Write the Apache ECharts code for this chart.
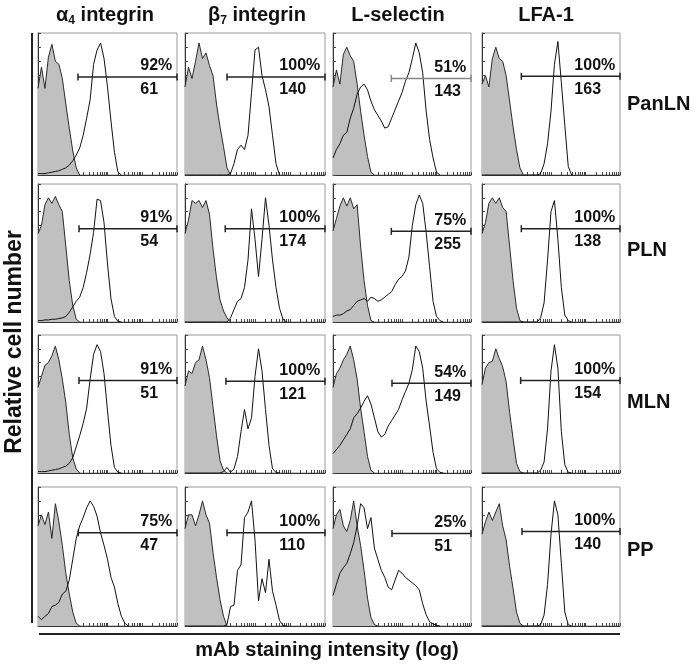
<!DOCTYPE html>
<html>
<head>
<meta charset="utf-8">
<script src="https://cdn.jsdelivr.net/npm/echarts@6/dist/echarts.min.js"></script>
<style>
html,body{margin:0;padding:0;background:#fff;}
#chart{width:698px;height:667px;}
</style>
</head>
<body>
<div id="chart"></div>
<script>
// ---------- data ----------
const markers = ['α4 integrin', 'β7 integrin', 'L-selectin', 'LFA-1'];
const tissues = ['PanLN', 'PLN', 'MLN', 'PP'];
// x positions of histogram bins, in log decades of staining intensity (10^0 .. 10^4)
const DECADES = [0,0.1,0.2,0.3,0.4,0.5,0.6,0.7,0.8,0.9,1.0,1.1,1.2,1.3,1.4,1.5,1.6,1.7,1.8,1.9,2.0,
                 2.1,2.2,2.3,2.4,2.5,2.6,2.7,2.8,2.9,3.0,3.1,3.2,3.3,3.4,3.5,3.6,3.7,3.8,3.9,4.0];

// relative cell number (% of panel height); one array per marker column
const PanLN_control = [
  [61,76,61,83,92,80,78,68,50,33,17,5,0],
  [62,76,68,80,93,82,86,77,70,50,34,20,5,0],
  [62,74,64,85,90,84,80,64,45,28,13,2,0],
  [64,70,62,82,90,82,80,70,52,34,18,5,0]
];
const PanLN_stained = [
  [1,1,1,1.5,2,2.5,3,4,5,7,10,14,19,28,40,53,78,88,93,82,62,38,16,2,0],
  [0,0,0,0,0,0,0,0,0,0,0,0,0,1,8,18,21,18,28,58,88,90,70,60,48,28,8,0],
  [12,18,22,28,30,40,47,57,62,64,60,52,46,42,38,33,34,40,46,52,58,66,72,82,93,86,72,45,25,12,2,0],
  [0,0,0,0,0,0,0,0,0,0,0,0,0,0,0,0,0,1,8,22,45,78,94,65,35,6,0]
];
const PLN_control = [
  [64,70,85,90,86,91,85,80,55,30,12,2,0],
  [64,74,88,86,88,83,88,78,53,32,16,8,3,0],
  [66,75,84,90,84,90,82,85,55,30,12,1,0],
  [64,72,86,90,86,90,83,80,55,30,10,1,0]
];
const PLN_stained = [
  [1,1,1.5,1.5,2,2,2.5,3,4,7,11,15,18,25,36,49,65,89,88,72,42,17,4,0.5,0],
  [0,0,0,0,0,0,0,0,0,0,0,0,0,3,9,15,17,25,45,82,60,33,60,90,70,45,25,10,2,0],
  [4,5,5,6,8,9,12,15,16,17,15,18,17,15,16,18,20,22,27,31,33,37,47,70,85,92,86,65,40,15,4,1,0],
  [0,0,0,0,0,0,0,0,0,0,0,0,0,0,0,0,0,3,14,45,80,88,60,25,5,1,0]
];
const MLN_control = [
  [62,70,78,80,85,92,82,68,51,28,11,3,0],
  [63,74,72,80,82,92,82,69,48,27,9,2,0],
  [62,72,76,82,86,92,82,68,47,30,12,2,0],
  [64,76,80,81,90,83,77,66,44,25,7,1,0]
];
const MLN_stained = [
  [1,1,1,1.5,2,2.5,3,4,5,7,11,19,27,36,47,68,86,93,88,72,45,20,4,0.5,0],
  [0,0,0,0,0,0,0,0,0,0,0,1,4,0.5,3,12,30,46,32,40,70,90,74,46,20,3,0.5,0],
  [14,17,20,24,28,32,40,43,47,52,56,50,40,30,26,28,34,38,42,46,53,59,65,75,92,88,76,52,34,15,3,0.5,0],
  [0,0,0,0,0,0,0,0,0,0,0,0,0,0,0,0,0,2,8,32,74,93,76,30,6,0.5,0]
];
const PP_control = [
  [72,80,73,82,63,88,75,58,38,23,10,2,0],
  [70,80,80,72,80,90,80,74,53,35,19,7,0],
  [70,80,84,72,68,76,90,72,58,40,20,6,1,0],
  [66,75,82,76,82,88,72,62,43,27,10,2,0]
];
const PP_stained = [
  [7,4.5,7,9,14,15,17,23,25,33,48,63,72,78,85,90,86,79,67,58,48,35,28,16,7,2,0],
  [0,0,0,0,0,0,0,0,0,0,0,0,1,14,15,40,44,78,82,90,62,18,34,24,48,25,15,4,0.5,0],
  [22,30,38,42,45,52,60,72,88,85,70,78,56,48,40,35,28,26,33,40,38,35,33,31,29,26,16,8,3,1.5,0.5,0],
  [0,0,0,0,0,0,0,0,0,0,0,0,0,0,0,0,0,1,8,30,66,90,80,45,10,1,0]
];
// gate: start (decades) and height (% of panel height)
const GATE_START = [[1.15,1.2,1.69,1.14],[1.18,1.15,1.69,1.14],[1.18,1.17,1.71,1.12],[1.16,1.2,1.71,1.16]];
const GATE_LEVEL = [[69,69,68,69.5],[67.6,67.6,65.7,67.6],[67,66.4,65,67],[67,67,66.6,68]];
const PERCENT = [['92%','100%','51%','100%'],['91%','100%','75%','100%'],['91%','100%','54%','100%'],['75%','100%','25%','100%']];
const MFI = [[61,140,143,163],[54,174,255,138],[51,121,149,154],[47,110,51,140]];

const CONTROL = [PanLN_control, PLN_control, MLN_control, PP_control];
const STAINED = [PanLN_stained, PLN_stained, MLN_stained, PP_stained];

// ---------- layout ----------
const COL_LEFT = [38,185,333,482], COL_W = [139,140,138,138];
const ROW_TOP = [33,184,335,487], ROW_H = [142,138,138,139];
const FONT = '"Liberation Sans", Arial, Helvetica, sans-serif';

const logTicks = [];
for (let d = 0; d < 4; d++) for (let k = 1; k <= 9; k++) logTicks.push(d + Math.log10(k));
logTicks.push(4);

const ctx = document.createElement('canvas').getContext('2d');
ctx.font = 'bold 16px ' + FONT;

const grids = [], xAxes = [], yAxes = [], series = [];
let gi = 0;
for (let r = 0; r < 4; r++) {
  for (let c = 0; c < 4; c++) {
    grids.push({left: COL_LEFT[c], top: ROW_TOP[r], width: COL_W[c], height: ROW_H[r],
      show: true, borderColor: '#9a9a9a', borderWidth: 1, containLabel: false});
    xAxes.push({type: 'value', gridIndex: gi, min: 0, max: 4, interval: 1,
      axisLine: {show: true, lineStyle: {color: '#333', width: 1}},
      axisTick: {show: true, inside: true, length: 3, customValues: logTicks, lineStyle: {color: '#444'}},
      axisLabel: {show: false}, splitLine: {show: false}});
    yAxes.push({type: 'value', gridIndex: gi, min: 0, max: 100, interval: 10,
      axisLine: {show: true, lineStyle: {color: '#333', width: 1}},
      axisTick: {show: true, inside: true, length: 3, lineStyle: {color: '#444'}},
      axisLabel: {show: false}, splitLine: {show: false}});
    const ctl = CONTROL[r][c].map((v, i) => [DECADES[i], v]);
    const stn = STAINED[r][c].map((v, i) => [DECADES[i], v]);
    series.push({type: 'line', xAxisIndex: gi, yAxisIndex: gi, data: ctl, showSymbol: false,
      lineStyle: {color: '#2a2a2a', width: 1}, areaStyle: {color: '#c0c0c0', opacity: 1}, z: 2, silent: true});
    series.push({type: 'line', xAxisIndex: gi, yAxisIndex: gi, data: stn, showSymbol: false,
      lineStyle: {color: '#111', width: 1}, z: 3, silent: true});
    const lvl = GATE_LEVEL[r][c];
    const pct = PERCENT[r][c];
    const wp = ctx.measureText(pct).width;
    const gateColor = (r === 0 && c === 2) ? '#888' : '#222';
    series.push({type: 'line', xAxisIndex: gi, yAxisIndex: gi, clip: false, z: 4, silent: true,
      symbol: 'rect', symbolSize: [1.5, 7], showSymbol: true,
      itemStyle: {color: gateColor}, lineStyle: {color: gateColor, width: 1.5},
      data: [[GATE_START[r][c], lvl], {value: [4, lvl], label: {
        show: true, position: 'left', distance: 4, offset: [0, 1],
        formatter: '{p|' + pct + '}\n{n|' + MFI[r][c] + '}',
        rich: {
          p: {fontSize: 16, fontWeight: 'bold', lineHeight: 24, fontFamily: FONT, color: '#111'},
          n: {fontSize: 16, fontWeight: 'bold', lineHeight: 24, fontFamily: FONT, color: '#111', width: wp, align: 'left'}
        }}}]});
    gi++;
  }
}

const titleX = [105, 257, 398, 546];
const rowY = [104, 250, 402, 550];
const graphic = [];
const titleRich = {a: {font: 'bold 20px ' + FONT, fill: '#111'}, s: {font: 'bold 12px ' + FONT, fill: '#111', padding: [12, 0, 0, 0]}};
const titleText = ['{a|α}{s|4}{a| integrin}', '{a|β}{s|7}{a| integrin}', '{a|L-selectin}', '{a|LFA-1}'];
for (let c = 0; c < 4; c++) {
  graphic.push({type: 'text', x: titleX[c], y: 15, style: {text: titleText[c], rich: titleRich,
    textAlign: 'center', textVerticalAlign: 'middle', font: 'bold 20px ' + FONT, fill: '#111'}});
}
for (let r = 0; r < 4; r++) {
  graphic.push({type: 'text', x: 627, y: rowY[r], style: {text: tissues[r], font: 'bold 20px ' + FONT, fill: '#111',
    textAlign: 'left', textVerticalAlign: 'middle'}});
}
graphic.push({type: 'text', x: 327, y: 650, style: {text: 'mAb staining intensity (log)', font: 'bold 20px ' + FONT, fill: '#111',
  textAlign: 'center', textVerticalAlign: 'middle'}});
graphic.push({type: 'text', x: 15, y: 342, rotation: Math.PI / 2, style: {text: 'Relative cell number', font: 'bold 23px ' + FONT, fill: '#111',
  textAlign: 'center', textVerticalAlign: 'middle'}});
graphic.push({type: 'line', shape: {x1: 32, y1: 33, x2: 32, y2: 623}, style: {stroke: '#222', lineWidth: 2}});
graphic.push({type: 'line', shape: {x1: 39, y1: 634, x2: 620, y2: 634}, style: {stroke: '#222', lineWidth: 2}});

const chart = echarts.init(document.getElementById('chart'), null, {renderer: 'canvas'});
chart.setOption({animation: false, backgroundColor: '#fff', grid: grids, xAxis: xAxes, yAxis: yAxes, series: series, graphic: graphic});
</script>
</body>
</html>
